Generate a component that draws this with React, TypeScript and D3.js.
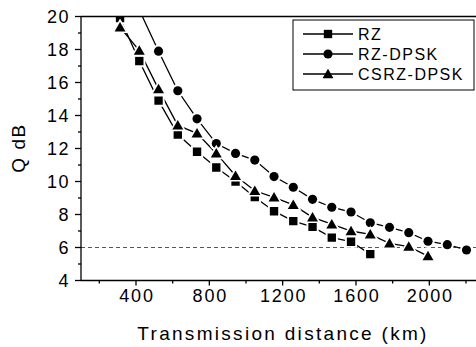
import React, { useRef, useEffect } from 'react';
import * as d3 from 'd3';

const seriesNames = ['RZ', 'RZ-DPSK', 'CSRZ-DPSK'];
const seriesShapes = ['square', 'circle', 'triangle'];

const rzKm = [313, 418, 523, 628, 733, 838, 943, 1048, 1153, 1258, 1363, 1468, 1573, 1678];
const rzQ = [19.9, 17.3, 14.9, 12.85, 11.8, 10.85, 10.0, 9.05, 8.2, 7.6, 7.25, 6.6, 6.35, 5.6];

const dpskKm = [313, 418, 523, 628, 733, 838, 943, 1048, 1153, 1258, 1363, 1468, 1573, 1678, 1783, 1888, 1993, 2098, 2203];
const dpskQ = [22.0, 20.4, 17.9, 15.5, 13.8, 12.3, 11.7, 11.3, 10.3, 9.65, 8.92, 8.44, 8.15, 7.5, 7.22, 6.9, 6.38, 6.17, 5.85];

const csrzKm = [313, 418, 523, 628, 733, 838, 943, 1048, 1153, 1258, 1363, 1468, 1573, 1678, 1783, 1888, 1993];
const csrzQ = [19.35, 17.93, 15.6, 13.4, 12.92, 11.7, 10.35, 9.44, 9.04, 8.58, 7.83, 7.41, 7.0, 6.8, 6.25, 6.05, 5.48];

const xMajorTicks = [400, 800, 1200, 1600, 2000];
const xMinorTicks = [200, 600, 1000, 1400, 1800, 2200];
const yMajorTicks = [4, 6, 8, 10, 12, 14, 16, 18, 20];
const yMinorTicks = [5, 7, 9, 11, 13, 15, 17, 19];
const thresholdQ = 6;

const font = "'Liberation Sans', Arial, Helvetica, sans-serif";

const App = () => {
  const svgRef = useRef<SVGSVGElement>(null);

  useEffect(() => {
    const svg = d3.select(svgRef.current);
    svg.selectAll('*').remove();

    const width = 476;
    const height = 347;
    const left = 81;
    const top = 16.5;
    const bottom = 280.5;

    const x = d3.scaleLinear().domain([100, 2300]).range([left, 484.3]);
    const y = d3.scaleLinear().domain([4, 20]).range([bottom, top]);

    svg.append('rect').attr('width', width).attr('height', height).attr('fill', '#fff');

    svg.append('defs').append('clipPath').attr('id', 'plotclip')
      .append('rect').attr('x', left).attr('y', top).attr('width', width - left).attr('height', bottom - top);

    // threshold line
    svg.append('line')
      .attr('x1', left).attr('x2', width)
      .attr('y1', y(thresholdQ)).attr('y2', y(thresholdQ))
      .attr('stroke', '#555').attr('stroke-width', 1).attr('stroke-dasharray', '4,3');

    const series = [
      rzKm.map((d, i) => ({ x: d, y: rzQ[i] })),
      dpskKm.map((d, i) => ({ x: d, y: dpskQ[i] })),
      csrzKm.map((d, i) => ({ x: d, y: csrzQ[i] })),
    ];

    const plot = svg.append('g').attr('clip-path', 'url(#plotclip)');

    const line = d3.line<{ x: number; y: number }>().x(d => x(d.x)).y(d => y(d.y));

    series.forEach(s => {
      plot.append('path').datum(s)
        .attr('fill', 'none').attr('stroke', '#000').attr('stroke-width', 1.3)
        .attr('d', line);
    });

    const symbolFor = (shape: string, size: number) => {
      const type = shape === 'square' ? d3.symbolSquare : shape === 'circle' ? d3.symbolCircle : d3.symbolTriangle;
      return d3.symbol().type(type).size(size)();
    };
    const sizes: { [k: string]: number } = { square: 70, circle: 66, triangle: 52 };
    const halo: { [k: string]: number } = { square: 150, circle: 140, triangle: 120 };

    series.forEach((s, i) => {
      const shape = seriesShapes[i];
      const yOff = shape === 'triangle' ? 1 : 0;
      plot.selectAll(null).data(s).enter().append('path')
        .attr('transform', d => `translate(${x(d.x)},${y(d.y) + yOff})`)
        .attr('d', symbolFor(shape, halo[shape]))
        .attr('fill', '#fff');
      plot.selectAll(null).data(s).enter().append('path')
        .attr('transform', d => `translate(${x(d.x)},${y(d.y) + yOff})`)
        .attr('d', symbolFor(shape, sizes[shape]))
        .attr('fill', '#000');
    });

    // axes frame
    const axis = svg.append('g').attr('stroke', '#000').attr('stroke-width', 1.3);
    axis.append('line').attr('x1', left).attr('x2', left).attr('y1', top).attr('y2', bottom);
    axis.append('line').attr('x1', left).attr('x2', width).attr('y1', bottom).attr('y2', bottom);
    axis.append('line').attr('x1', left).attr('x2', width).attr('y1', top).attr('y2', top);

    yMajorTicks.forEach(t => {
      axis.append('line').attr('x1', left - 6).attr('x2', left).attr('y1', y(t)).attr('y2', y(t));
    });
    yMinorTicks.forEach(t => {
      axis.append('line').attr('x1', left - 3).attr('x2', left).attr('y1', y(t)).attr('y2', y(t));
    });
    xMajorTicks.forEach(t => {
      axis.append('line').attr('x1', x(t)).attr('x2', x(t)).attr('y1', bottom).attr('y2', bottom + 5);
    });
    xMinorTicks.forEach(t => {
      axis.append('line').attr('x1', x(t)).attr('x2', x(t)).attr('y1', bottom).attr('y2', bottom + 3);
    });

    const labels = svg.append('g').style('font-family', font).attr('fill', '#000');

    labels.selectAll(null).data(yMajorTicks).enter().append('text')
      .attr('x', 70).attr('y', d => y(d)).attr('dy', '0.36em')
      .attr('text-anchor', 'end').style('font-size', '18px').style('letter-spacing', '1.5px')
      .text(d => d);

    labels.selectAll(null).data(xMajorTicks).enter().append('text')
      .attr('x', d => x(d) + 1).attr('y', bottom + 21)
      .attr('text-anchor', 'middle').style('font-size', '18px').style('letter-spacing', '1.8px')
      .text(d => d);

    labels.append('text')
      .attr('x', 283).attr('y', 340)
      .attr('text-anchor', 'middle').style('font-size', '19px').style('letter-spacing', '2.3px')
      .text('Transmission distance (km)');

    labels.append('text')
      .attr('transform', `translate(25,148) rotate(-90)`)
      .attr('text-anchor', 'middle').style('font-size', '19px').style('letter-spacing', '1.5px')
      .text('Q dB');

    // legend
    const legend = svg.append('g');
    legend.append('rect').attr('x', 293).attr('y', 20).attr('width', 181).attr('height', 70)
      .attr('fill', '#fff').attr('stroke', '#000').attr('stroke-width', 1);
    seriesNames.forEach((name, i) => {
      const ly = 34 + i * 20;
      legend.append('line').attr('x1', 303).attr('x2', 353).attr('y1', ly).attr('y2', ly)
        .attr('stroke', '#000').attr('stroke-width', 1.3);
      legend.append('path')
        .attr('transform', `translate(328,${ly + (seriesShapes[i] === 'triangle' ? 1 : 0)})`)
        .attr('d', symbolFor(seriesShapes[i], sizes[seriesShapes[i]]))
        .attr('fill', '#000');
      legend.append('text')
        .attr('x', 358).attr('y', ly).attr('dy', '0.36em')
        .style('font-family', font).style('font-size', '16px').style('letter-spacing', '1.5px')
        .text(name);
    });
  }, []);

  return (
    <svg ref={svgRef} width={476} height={347}
      style={{ position: 'absolute', left: 0, top: 0, display: 'block' }} />
  );
};

export default App;
